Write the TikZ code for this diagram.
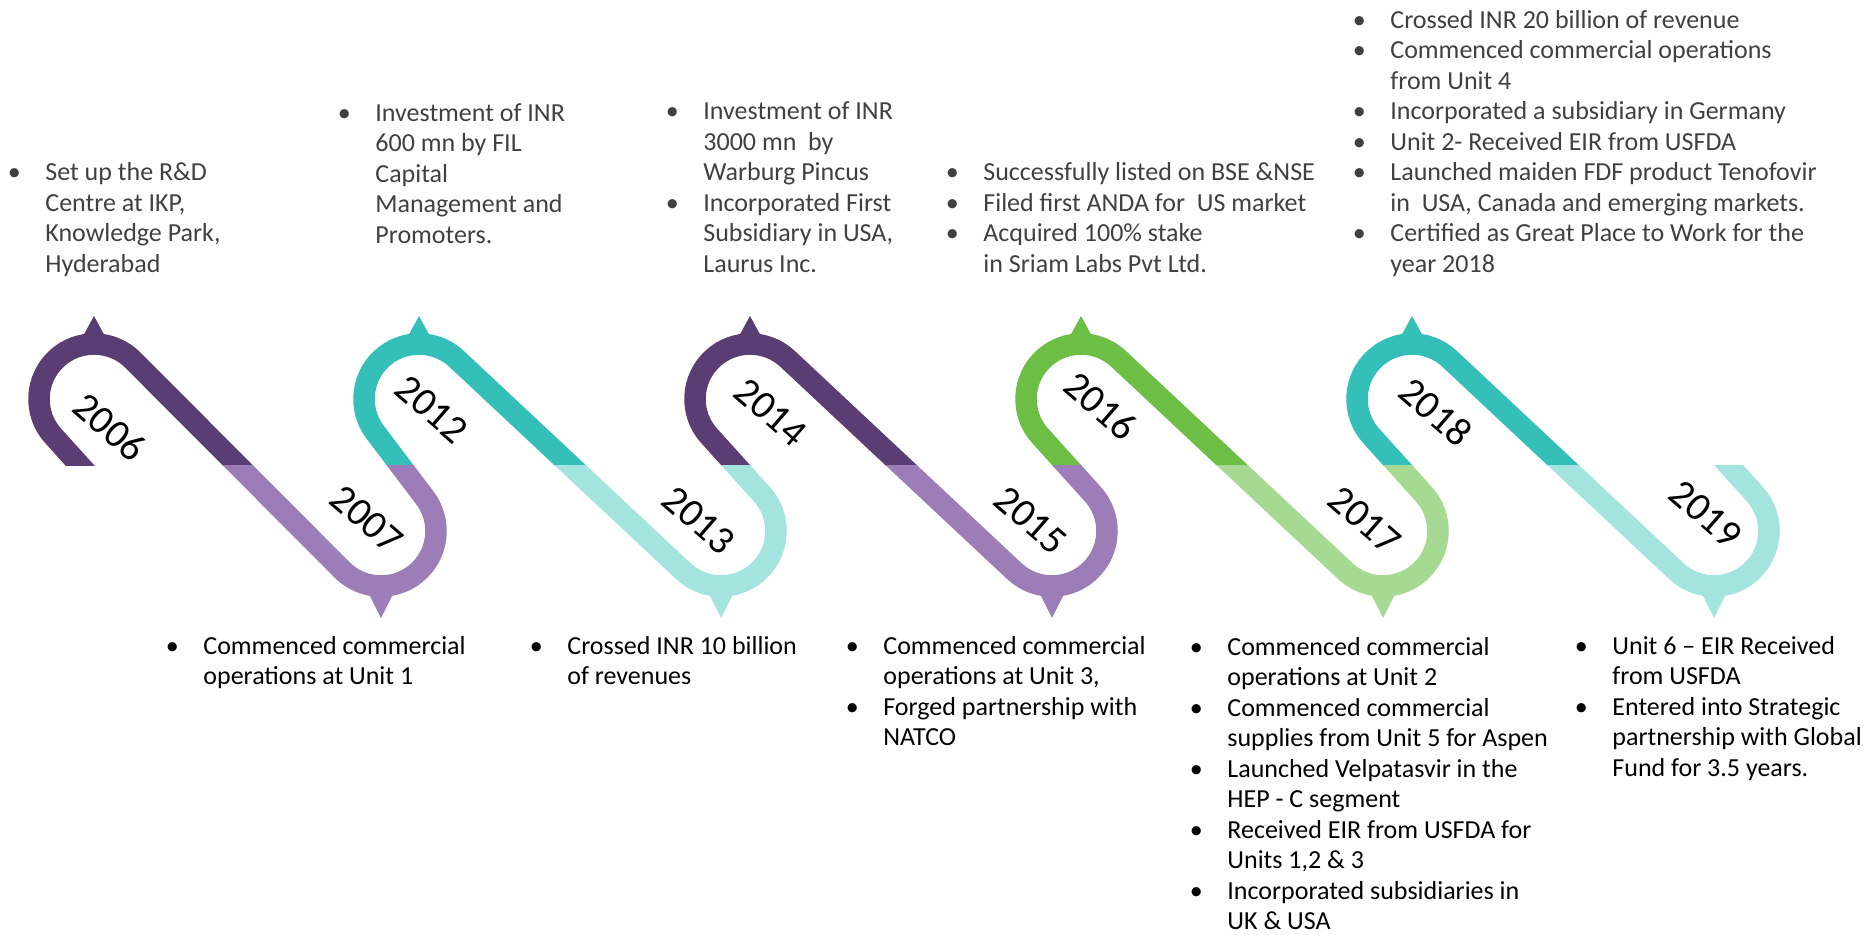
\documentclass[tikz,border=0pt]{standalone}
\usepackage{fontspec}
\setmainfont{Carlito}
\definecolor{darkpurple}{RGB}{90,61,115}
\definecolor{lightpurple}{RGB}{156,125,184}
\definecolor{teal}{RGB}{52,192,185}
\definecolor{lightteal}{RGB}{163,228,223}
\definecolor{green}{RGB}{108,190,69}
\definecolor{lightgreen}{RGB}{166,217,145}
\definecolor{textgray}{RGB}{64,64,64}

\begin{document}
\begin{tikzpicture}[x=0.5pt, y=0.5pt,
		snake/.style={line width=10.75pt},
		year/.style={font=\fontsize{20}{24}\selectfont, rotate=-41, inner sep=0pt},
		toptext/.style={anchor=base west, inner sep=0pt, text=textgray, font=\fontsize{13}{15.25}\selectfont},
		bottext/.style={toptext, text=black}]
		
		\useasboundingbox (0,0) rectangle (1868,-934);
		
		% upper loops
		\begin{scope}[shift={(94,0)}]
			\clip (-100,-465) rectangle (250,-250);
			\draw[snake, darkpurple] (-1.09,-479.84) -- (-40.81,-435.87) arc[start angle=222.09, end angle=44.92, radius=55] -- (157.6,-479.2);
			\fill[darkpurple] (-12,-338) -- (0,-316) -- (12,-338) -- cycle;
		\end{scope}
		\begin{scope}[shift={(419,0)}]
			\clip (-100,-465) rectangle (250,-250);
			\draw[snake, teal] (-6.92,-480.94) -- (-43.85,-432.21) arc[start angle=217.15, end angle=46.89, radius=55] -- (165.6,-478.7);
			\fill[teal] (-12,-338) -- (0,-316) -- (12,-338) -- cycle;
		\end{scope}
		\begin{scope}[shift={(750,0)}]
			\clip (-100,-465) rectangle (250,-250);
			\draw[snake, darkpurple] (-1.09,-479.84) -- (-40.81,-435.87) arc[start angle=222.09, end angle=46.89, radius=55] -- (165.6,-478.7);
			\fill[darkpurple] (-12,-338) -- (0,-316) -- (12,-338) -- cycle;
		\end{scope}
		\begin{scope}[shift={(1081,0)}]
			\clip (-100,-465) rectangle (250,-250);
			\draw[snake, green] (-1.09,-479.84) -- (-40.81,-435.87) arc[start angle=222.09, end angle=46.89, radius=55] -- (165.6,-478.7);
			\fill[green] (-12,-338) -- (0,-316) -- (12,-338) -- cycle;
		\end{scope}
		\begin{scope}[shift={(1412,0)}]
			\clip (-100,-465) rectangle (250,-250);
			\draw[snake, teal] (-1.09,-479.84) -- (-40.81,-435.87) arc[start angle=222.09, end angle=46.89, radius=55] -- (165.6,-478.7);
			\fill[teal] (-12,-338) -- (0,-316) -- (12,-338) -- cycle;
		\end{scope}
		
		% lower loops
		\begin{scope}[shift={(381,0)}]
			\clip (-250,-465) rectangle (100,-700);
			\draw[snake, lightpurple] (-157.6,-450.8) -- (-38.95,-569.84) arc[start angle=224.92, end angle=397.15, radius=55] -- (6.92,-449.06);
			\fill[lightpurple] (-13,-592) -- (0,-618) -- (13,-592) -- cycle;
		\end{scope}
		\begin{scope}[shift={(721,0)}]
			\clip (-250,-465) rectangle (100,-700);
			\draw[snake, lightteal] (-165.6,-451.3) -- (-37.59,-571.15) arc[start angle=226.89, end angle=402.09, radius=55] -- (1.09,-450.16);
			\fill[lightteal] (-13,-592) -- (0,-618) -- (13,-592) -- cycle;
		\end{scope}
		\begin{scope}[shift={(1052,0)}]
			\clip (-250,-465) rectangle (100,-700);
			\draw[snake, lightpurple] (-165.6,-451.3) -- (-37.59,-571.15) arc[start angle=226.89, end angle=402.09, radius=55] -- (1.09,-450.16);
			\fill[lightpurple] (-13,-592) -- (0,-618) -- (13,-592) -- cycle;
		\end{scope}
		\begin{scope}[shift={(1383,0)}]
			\clip (-250,-465) rectangle (100,-700);
			\draw[snake, lightgreen] (-165.6,-451.3) -- (-37.59,-571.15) arc[start angle=226.89, end angle=402.09, radius=55] -- (1.09,-450.16);
			\fill[lightgreen] (-13,-592) -- (0,-618) -- (13,-592) -- cycle;
		\end{scope}
		\begin{scope}[shift={(1714,0)}]
			\clip (-250,-465) rectangle (100,-700);
			\draw[snake, lightteal] (-165.6,-451.3) -- (-37.59,-571.15) arc[start angle=226.89, end angle=402.09, radius=55] -- (1.09,-450.16);
			\fill[lightteal] (-13,-592) -- (0,-618) -- (13,-592) -- cycle;
		\end{scope}
		
		% years
		\node[year] (y2006) at (110,-427) {2006};
		\node[year] (y2012) at (432,-409) {2012};
		\node[year] (y2014) at (771,-412) {2014};
		\node[year] (y2016) at (1101,-406) {2016};
		\node[year] (y2018) at (1436,-412) {2018};
		\node[year] (y2007) at (367,-519) {2007};
		\node[year] (y2013) at (699,-520) {2013};
		\node[year] (y2015) at (1031,-520) {2015};
		\node[year] (y2017) at (1365,-520) {2017};
		\node[year] (y2019) at (1706,-514) {2019};
		
		% milestones above
		\node[toptext] (t2006) at (7.5,-180.5) {\begin{tabular}[t]{@{}p{18.75pt}@{}l@{}}
			\textbullet & Set up the R\&D\\
			& Centre at IKP,\\
			& Knowledge Park,\\
			& Hyderabad
		\end{tabular}};
		\node[toptext] (t2012) at (337.5,-121) {\begin{tabular}[t]{@{}p{18.75pt}@{}l@{}}
			\textbullet & Investment of INR\\
			& 600 mn by FIL\\
			& Capital\\
			& Management and\\
			& Promoters.
		\end{tabular}};
		\node[toptext] (t2014) at (665.5,-119.5) {\begin{tabular}[t]{@{}p{18.75pt}@{}l@{}}
			\textbullet & Investment of INR\\
			& 3000 mn~ by\\
			& Warburg Pincus\\
			\textbullet & Incorporated First\\
			& Subsidiary in USA,\\
			& Laurus Inc.
		\end{tabular}};
		\node[toptext] (t2016) at (945.5,-180.5) {\begin{tabular}[t]{@{}p{18.75pt}@{}l@{}}
			\textbullet & Successfully listed on BSE \&NSE\\
			\textbullet & Filed first ANDA for~ US market\\
			\textbullet & Acquired 100\% stake\\
			& in Sriam Labs Pvt Ltd.
		\end{tabular}};
		\node[toptext] (t2018) at (1352.5,-28) {\begin{tabular}[t]{@{}p{18.75pt}@{}l@{}}
			\textbullet & Crossed INR 20 billion of revenue\\
			\textbullet & Commenced commercial operations\\
			& from Unit 4\\
			\textbullet & Incorporated a subsidiary in Germany\\
			\textbullet & Unit 2- Received EIR from USFDA\\
			\textbullet & Launched maiden FDF product Tenofovir\\
			& in~ USA, Canada and emerging markets.\\
			\textbullet & Certified as Great Place to Work for the\\
			& year 2018
		\end{tabular}};
		
		% milestones below
		\node[bottext] (t2007) at (165.5,-654) {\begin{tabular}[t]{@{}p{18.75pt}@{}l@{}}
			\textbullet & Commenced commercial\\
			& operations at Unit 1
		\end{tabular}};
		\node[bottext] (t2013) at (529.5,-654) {\begin{tabular}[t]{@{}p{18.75pt}@{}l@{}}
			\textbullet & Crossed INR 10 billion\\
			& of revenues
		\end{tabular}};
		\node[bottext] (t2015) at (845.5,-654) {\begin{tabular}[t]{@{}p{18.75pt}@{}l@{}}
			\textbullet & Commenced commercial\\
			& operations at Unit 3,\\
			\textbullet & Forged partnership with\\
			& NATCO
		\end{tabular}};
		\node[bottext] (t2017) at (1189.5,-655) {\begin{tabular}[t]{@{}p{18.75pt}@{}l@{}}
			\textbullet & Commenced commercial\\
			& operations at Unit 2\\
			\textbullet & Commenced commercial\\
			& supplies from Unit 5 for Aspen\\
			\textbullet & Launched Velpatasvir in the\\
			& HEP - C segment\\
			\textbullet & Received EIR from USFDA for\\
			& Units 1,2 \& 3\\
			\textbullet & Incorporated subsidiaries in\\
			& UK \& USA
		\end{tabular}};
		\node[bottext] (t2019) at (1574.5,-654) {\begin{tabular}[t]{@{}p{18.75pt}@{}l@{}}
			\textbullet & Unit 6 – EIR Received\\
			& from USFDA\\
			\textbullet & Entered into Strategic\\
			& partnership with Global\\
			& Fund for 3.5 years.
		\end{tabular}};
		\end{tikzpicture}
\end{document}
